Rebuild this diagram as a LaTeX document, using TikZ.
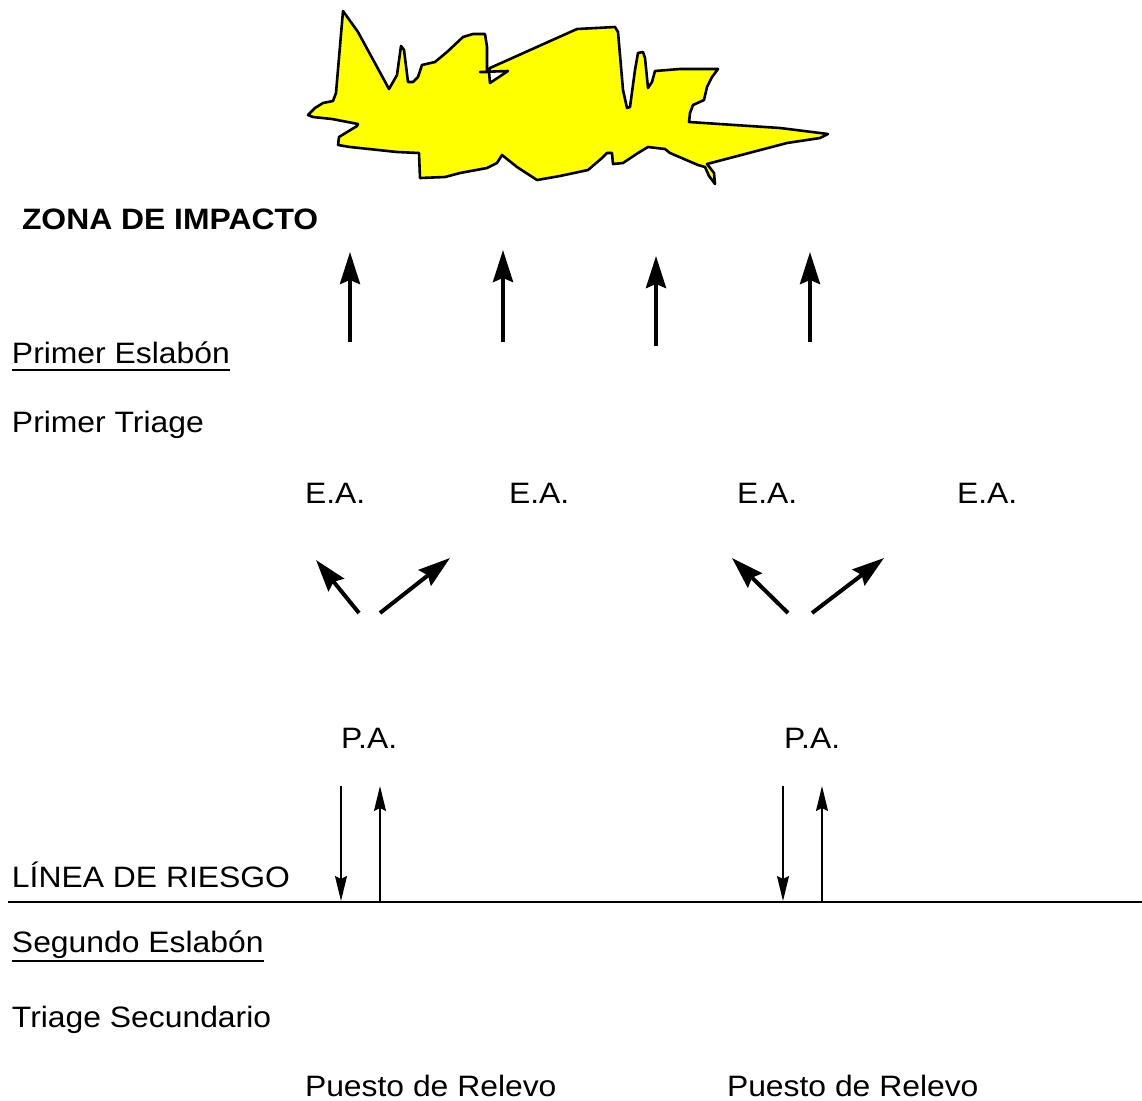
\documentclass[tikz,border=0pt]{standalone}
\usepackage{fontspec}
\setmainfont{Liberation Sans}[FakeStretch=1.08]
\usetikzlibrary{arrows.meta}
\definecolor{blast}{RGB}{255,255,0}
\tikzset{
  lbl/.style={anchor=base west, inner sep=0pt, outer sep=0pt, font=\fontsize{29.5}{35}\selectfont},
  title/.style={lbl, font=\fontsize{29.5}{35}\selectfont\bfseries},
  ul/.style={line width=2pt},
  bigarrow/.style={line width=4pt, -{Stealth[length=32pt, width=20pt, inset=4pt]}},
  thinarrow/.style={line width=1.8pt, -{Stealth[length=25pt, width=12pt, inset=3pt]}},
  riskline/.style={line width=2.4pt},
  blastshape/.style={draw=black, line width=2.6pt, fill=blast, even odd rule, line join=round}
}
\begin{document}
\begin{tikzpicture}[x=1pt, y=-1pt]
\useasboundingbox (0,0) rectangle (1142,1100);

% impact zone outline
\path[blastshape]
  (343,11) -- (358,32) -- (389,89) -- (397,75) -- (401,46) -- (404,50) -- (408,82)
  -- (413,82) -- (418,77) -- (422,65) -- (435,62) -- (447,52) -- (463,37) -- (473,34)
  -- (485,34) -- (487,47) -- (487,72) -- (480,72) -- (508,71) -- (490,83) -- (489,72)
  -- (490,68) -- (577,29) -- (615,27) -- (618,32) -- (623,90) -- (627,108) -- (630,107)
  -- (635,70) -- (638,53) -- (643,52) -- (645,58) -- (648,88) -- (652,82) -- (655,71)
  -- (680,69) -- (718,69) -- (712,77) -- (707,87) -- (704,100) -- (693,105) -- (690,113)
  -- (689,122) -- (780,128) -- (828,134) -- (820,138) -- (787,143) -- (707,164)
  -- (714,173) -- (715,184) -- (709,176) -- (705,167) -- (698,165) -- (670,153)
  -- (665,149) -- (648,147) -- (638,153) -- (623,163) -- (613,164) -- (612,153)
  -- (607,153) -- (602,158) -- (588,170) -- (560,176) -- (537,180) -- (517,167)
  -- (502,155) -- (497,163) -- (487,168) -- (460,173) -- (445,177) -- (420,178)
  -- (419,153) -- (397,152) -- (350,147) -- (338,145) -- (339,137) -- (357,126)
  -- (358,124) -- (332,119) -- (313,117) -- (308,115) -- (315,108) -- (323,103)
  -- (333,101) -- (336,93) -- cycle;

% left-hand labels
\node[title] (zona) at (22,229) {ZONA DE IMPACTO};
\node[lbl] (pe) at (12,363) {Primer Eslabón};
\node[lbl] (pt) at (12,432) {Primer Triage};
\node[lbl] (lr) at (12,887) {LÍNEA DE RIESGO};
\node[lbl] (se) at (12,952) {Segundo Eslabón};
\node[lbl] (ts) at (12,1027) {Triage Secundario};
\draw[ul] ([yshift=-7pt]pe.base west) -- ([yshift=-7pt]pe.base east);
\draw[ul] ([yshift=-9pt]se.base west) -- ([yshift=-9pt]se.base east);

% stations
\node[lbl] (ea1) at (305,503) {E.A.};
\node[lbl] (ea2) at (509,503) {E.A.};
\node[lbl] (ea3) at (737,503) {E.A.};
\node[lbl] (ea4) at (957,503) {E.A.};
\node[lbl] (pa1) at (341,748) {P.A.};
\node[lbl] (pa2) at (784,748) {P.A.};
\node[lbl] (pr1) at (305,1096) {Puesto de Relevo};
\node[lbl] (pr2) at (727,1096) {Puesto de Relevo};

% risk line
\coordinate (rl0) at (8,902);
\coordinate (rl1) at (1142,902);
\draw[riskline] (rl0) -- (rl1);

% arrows towards the impact zone
\foreach \i/\x/\ya/\yb in {1/350/342/252, 2/503/342/250, 3/656/346/256, 4/810/342/252}{
  \coordinate (ua\i) at (\x,\ya);
  \coordinate (ub\i) at (\x,\yb);
  \draw[bigarrow] (ua\i) -- (ub\i);
}

% arrows from the advanced posts to the stations
\coordinate (d1a) at (359,613); \coordinate (d1b) at (316,560);
\coordinate (d2a) at (380,613); \coordinate (d2b) at (450,558);
\coordinate (d3a) at (788,613); \coordinate (d3b) at (732,558);
\coordinate (d4a) at (812,613); \coordinate (d4b) at (884,558);
\draw[bigarrow] (d1a) -- (d1b);
\draw[bigarrow] (d2a) -- (d2b);
\draw[bigarrow] (d3a) -- (d3b);
\draw[bigarrow] (d4a) -- (d4b);

% traffic across the risk line
\coordinate (t1a) at (341,786); \coordinate (t1b) at (341,901);
\coordinate (t2a) at (380,902); \coordinate (t2b) at (380,786);
\coordinate (t3a) at (783,786); \coordinate (t3b) at (783,901);
\coordinate (t4a) at (822,902); \coordinate (t4b) at (822,786);
\draw[thinarrow] (t1a) -- (t1b);
\draw[thinarrow] (t2a) -- (t2b);
\draw[thinarrow] (t3a) -- (t3b);
\draw[thinarrow] (t4a) -- (t4b);
\end{tikzpicture}
\end{document}
